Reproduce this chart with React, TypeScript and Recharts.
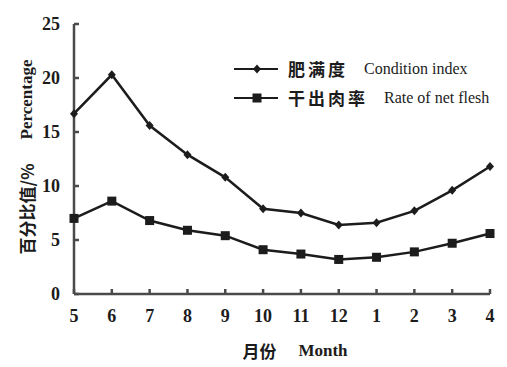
import { LineChart, Line, XAxis, YAxis } from "recharts";

const months = ["5", "6", "7", "8", "9", "10", "11", "12", "1", "2", "3", "4"];
const conditionIndex = [16.7, 20.3, 15.6, 12.9, 10.8, 7.9, 7.5, 6.4, 6.6, 7.7, 9.6, 11.8];
const netFleshRate = [7.0, 8.6, 6.8, 5.9, 5.4, 4.1, 3.7, 3.2, 3.4, 3.9, 4.7, 5.6];
const yTicks = [0, 5, 10, 15, 20, 25];

const seriesNames = [
  { key: "condition", cn: "肥满度", en: "Condition index", marker: "diamond" },
  { key: "flesh", cn: "干出肉率", en: "Rate of net flesh", marker: "square" },
];

const data = months.map((m, i) => ({
  month: m,
  condition: conditionIndex[i],
  flesh: netFleshRate[i],
}));

const INK = "#1c1c1c";
const AXIS = "#4a4a4a";
const SERIF = "'Liberation Serif', 'Times New Roman', serif";
const CJK = "'Noto Sans CJK SC', sans-serif";

const renderDiamond = (p: any) => (
  <path
    key={`d-${p.index}`}
    d={`M${p.cx},${p.cy - 4.5} L${p.cx + 4},${p.cy} L${p.cx},${p.cy + 4.5} L${p.cx - 4},${p.cy} Z`}
    fill={INK}
  />
);

const renderSquare = (p: any) => (
  <rect key={`s-${p.index}`} x={p.cx - 4.5} y={p.cy - 4.5} width={9} height={9} fill={INK} />
);

// legend sits over the plot, so it is drawn outside the chart layout
const LegendBox = () => (
  <div style={{ position: "absolute", left: 234, top: 54, fontFamily: SERIF, color: INK }}>
    {seriesNames.map((s) => (
      <div key={s.key} style={{ display: "flex", alignItems: "center", height: 29 }}>
        <svg width={46} height={14}>
          <line x1={0} y1={7} x2={44} y2={7} stroke={INK} strokeWidth={2.2} />
          {s.marker === "diamond" ? (
            <path d="M23,2.5 L27,7 L23,11.5 L19,7 Z" fill={INK} />
          ) : (
            <rect x={18.5} y={2.5} width={9} height={9} fill={INK} />
          )}
        </svg>
        <span
          style={{
            fontFamily: CJK,
            fontSize: 17,
            fontWeight: 700,
            letterSpacing: 3,
            marginLeft: 8,
            width: s.key === "condition" ? 76 : 96,
          }}
        >
          {s.cn}
        </span>
        <span style={{ fontSize: 16, whiteSpace: "nowrap" }}>{s.en}</span>
      </div>
    ))}
  </div>
);

const YLabel = () => (
  <text transform="translate(26,157) rotate(-90)" textAnchor="middle" dominantBaseline="central" fill={INK}>
    <tspan fontFamily={CJK} fontSize={17} fontWeight={700}>百分比值/%</tspan>
    <tspan fontFamily={SERIF} fontSize={17} fontWeight={700} dx={24}>Percentage</tspan>
  </text>
);

const XLabel = () => (
  <text x={295} y={350} textAnchor="middle" dominantBaseline="central" fill={INK}>
    <tspan fontFamily={CJK} fontSize={17} fontWeight={700}>月份</tspan>
    <tspan fontFamily={SERIF} fontSize={17} fontWeight={700} dx={22}>Month</tspan>
  </text>
);

export default function App() {
  return (
    <div style={{ position: "absolute", left: 0, top: 0, width: 507, height: 367, background: "#fff" }}>
      <LineChart width={507} height={367} data={data} margin={{ top: 24, right: 17, bottom: 0, left: 0 }}>
        <XAxis
          dataKey="month"
          height={73}
          stroke={AXIS}
          strokeWidth={2.5}
          tickSize={-5}
          tickMargin={20}
          interval={0}
          tick={{ fill: INK, fontFamily: SERIF, fontSize: 18, fontWeight: 700 }}
          label={<XLabel />}
        />
        <YAxis
          domain={[0, 25]}
          ticks={yTicks}
          width={74}
          stroke={AXIS}
          strokeWidth={2.5}
          tickSize={-5}
          tickMargin={19}
          tick={{ fill: INK, fontFamily: SERIF, fontSize: 18, fontWeight: 700 }}
          label={<YLabel />}
        />
        <Line
          dataKey="condition"
          stroke={INK}
          strokeWidth={2.5}
          dot={renderDiamond}
          activeDot={false}
          isAnimationActive={false}
        />
        <Line
          dataKey="flesh"
          stroke={INK}
          strokeWidth={2.5}
          dot={renderSquare}
          activeDot={false}
          isAnimationActive={false}
        />
      </LineChart>
      <LegendBox />
    </div>
  );
}
